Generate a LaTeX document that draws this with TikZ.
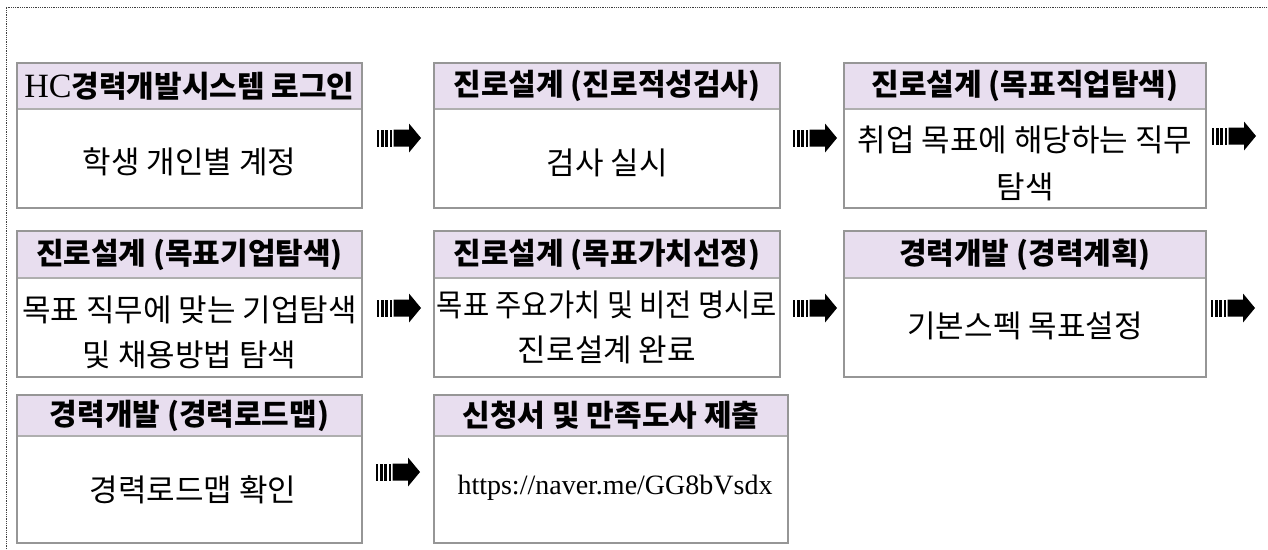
\documentclass[tikz,border=0pt]{standalone}
\usepackage{fontspec}
\newfontfamily\kr{Noto Sans CJK KR}
\newfontfamily\krs{Noto Sans CJK KR}[FakeStretch=0.92]
\newfontfamily\lser{Liberation Serif}
\definecolor{hdrfill}{RGB}{232,222,239}
\definecolor{bordergray}{RGB}{150,150,150}
\definecolor{sepgray}{RGB}{175,175,175}
\tikzset{
  hdrbox/.style={fill=hdrfill, inner sep=0pt, outer sep=0pt, font=\kr\bfseries\fontsize{30}{34}\selectfont},
  bodybox/.style={inner sep=0pt, outer sep=0pt},
  txt/.style={inner sep=0pt, align=center, font=\kr\fontsize{31}{45}\selectfont},
  urltxt/.style={inner sep=0pt, font=\lser\fontsize{28}{34}\selectfont},
  outerframe/.style={draw=bordergray, line width=2.5pt},
  sepline/.style={draw=sepgray, line width=1.5pt},
  framedots/.style={draw=black!75, densely dotted, line width=0.8pt},
  flowarrow/.pic={
    \fill (0,-8.5) rectangle (2.3,8.5);
    \fill (4.2,-8.5) rectangle (6.5,8.5);
    \fill (8.4,-8.5) rectangle (10.7,8.5);
    \fill (12.6,-8.5) rectangle (14.9,8.5);
    \fill (16.5,-8.5) -- (32,-8.5) -- (32,-14.5) -- (44,0) -- (32,14.5) -- (32,8.5) -- (16.5,8.5) -- cycle;
  }
}
\begin{document}
\begin{tikzpicture}[x=1pt,y=-1pt]
\useasboundingbox (0,0) rectangle (1268,549);
\draw[framedots] (6,549) -- (6,7) -- (1268,7);

% ---- Row 1 ----
\node[hdrbox, minimum width=345pt, minimum height=46pt] (h1) at (189.5,86) {{\lser\mdseries\fontsize{34}{34}\selectfont HC}경력개발시스템 로그인};
\node[bodybox, minimum width=345pt, minimum height=99pt] (b1) at (189.5,158.5) {};
\node[txt] (t1) at (189.5,162) {학생 개인별 계정};

\node[hdrbox, minimum width=346pt, minimum height=46pt] (h2) at (607,86) {진로설계 (진로적성검사)};
\node[bodybox, minimum width=346pt, minimum height=99pt] (b2) at (607,158.5) {};
\node[txt] (t2) at (607,163) {검사 실시};

\node[hdrbox, minimum width=362pt, minimum height=46pt] (h3) at (1025,86) {진로설계 (목표직업탐색)};
\node[bodybox, minimum width=362pt, minimum height=99pt] (b3) at (1025,158.5) {};
\node[txt, font=\kr\fontsize{31}{47}\selectfont] (t3) at (1025,163.5) {취업 목표에 해당하는 직무\\탐색};

% ---- Row 2 ----
\node[hdrbox, minimum width=345pt, minimum height=47pt] (h4) at (189.5,254.5) {진로설계 (목표기업탐색)};
\node[bodybox, minimum width=345pt, minimum height=99pt] (b4) at (189.5,327.5) {};
\node[txt] (t4) at (189.5,332.5) {목표 직무에 맞는 기업탐색\\및 채용방법 탐색};

\node[hdrbox, minimum width=346pt, minimum height=47pt] (h5) at (607,254.5) {진로설계 (목표가치선정)};
\node[bodybox, minimum width=346pt, minimum height=99pt] (b5) at (607,327.5) {};
\node[txt] (t5) at (607,327.5) {{\krs 목표 주요가치 및 비전 명시로}\\진로설계 완료};

\node[hdrbox, minimum width=362pt, minimum height=47pt] (h6) at (1025,254.5) {경력개발 (경력계획)};
\node[bodybox, minimum width=362pt, minimum height=99pt] (b6) at (1025,327.5) {};
\node[txt] (t6) at (1025,326) {기본스펙 목표설정};

% ---- Row 3 ----
\node[hdrbox, minimum width=345pt, minimum height=41pt] (h7) at (189.5,415.5) {경력개발 (경력로드맵)};
\node[bodybox, minimum width=345pt, minimum height=107pt] (b7) at (189.5,489.5) {};
\node[txt] (t7) at (193,490) {경력로드맵 확인};

\node[hdrbox, minimum width=354pt, minimum height=41pt] (h8) at (611,415.5) {신청서 및 만족도사 제출};
\node[bodybox, minimum width=354pt, minimum height=107pt] (b8) at (611,489.5) {};
\node[urltxt] (t8) at (615,488) {https://naver.me/GG8bVsdx};

% separators and frames
\foreach \n in {1,...,8} {
  \draw[sepline] (h\n.south west) -- (h\n.south east);
  \draw[outerframe] (h\n.north west) rectangle (b\n.south east);
}

% ---- flow arrows ----
\pic at (377,138) {flowarrow};
\pic at (793,138) {flowarrow};
\pic at (1212,136) {flowarrow};
\pic at (377,308) {flowarrow};
\pic at (793,308) {flowarrow};
\pic at (1211,308) {flowarrow};
\pic at (376,472) {flowarrow};
\end{tikzpicture}
\end{document}
